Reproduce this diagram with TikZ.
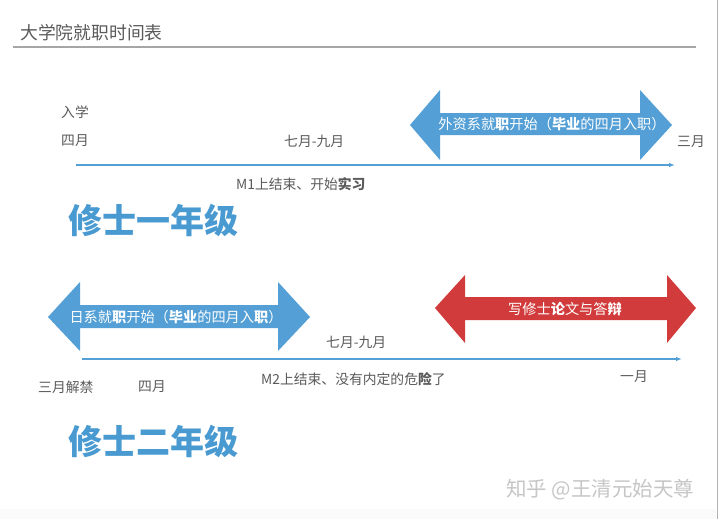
\documentclass[tikz,border=0pt]{standalone}
\usepackage{fontspec}
\setmainfont{Noto Sans CJK SC}
\usetikzlibrary{arrows.meta}
\definecolor{tblue}{HTML}{4A9AD2}
\definecolor{abblue}{HTML}{539FD6}
\definecolor{tred}{HTML}{D23B3B}
\definecolor{tgray}{HTML}{5A5A5A}
\tikzset{
  lbl/.style={font=\fontsize{13.8}{15}\selectfont, text=tgray, inner sep=0pt, anchor=west},
  big/.style={font=\fontsize{34}{38}\selectfont\bfseries, text=tblue, inner sep=0pt, anchor=west},
  atext/.style={font=\fontsize{14.2}{16}\selectfont, text=white, inner sep=0pt},
  tline/.style={abblue, line width=1.3pt, -{Latex[length=6pt,width=4.5pt]}},
}
\begin{document}
\begin{tikzpicture}[x=1pt,y=-1pt]
\useasboundingbox (0,0) rectangle (720,519);
\fill[white] (0,0) rectangle (720,519);
% page border hints
\draw[gray!60, line width=1pt] (717,0) -- (717,519);
\fill[gray!4] (0,509) rectangle (716,519);
% title
\node[font=\fontsize{17.8}{20}\selectfont, text=tgray, inner sep=0pt, anchor=west] (title) at (20,33) {大学院就职时间表};
\draw[gray!70, line width=1.5pt] (13,47) -- (696,47);

% ---- year 1 ----
\fill[abblue] (410,125) -- (440,90) -- (440,113) -- (640,113) -- (640,90) -- (672,125)
  -- (640,160) -- (640,135) -- (440,135) -- (440,160) -- cycle;
\node[atext] (a1) at (552,124) {外资系就\textbf{职}开始（\textbf{毕业}的四月入职）};

\coordinate (t1s) at (76,165);
\coordinate (t1e) at (675,165);
\draw[tline] (t1s) -- (t1e);

\node[lbl] (ruxue) at (61,112) {入学};
\node[lbl] (siyue1) at (61,141) {四月};
\node[lbl] (qiyue1) at (284,141) {七月-九月};
\node[lbl] (sanyue1) at (677,142) {三月};
\node[lbl] (m1) at (236,184) {M1上结束、开始\textbf{实习}};
\node[big] (y1) at (68,220) {修士一年级};

% ---- year 2 ----
\fill[abblue] (48,317) -- (80,282) -- (80,305) -- (278,305) -- (278,282) -- (310,317)
  -- (278,351) -- (278,328) -- (80,328) -- (80,351) -- cycle;
\node[atext] (a2) at (176,317) {日系就\textbf{职}开始（\textbf{毕业}的四月入\textbf{职}）};

\fill[tred] (435,308) -- (465,275) -- (465,297) -- (667,297) -- (667,275) -- (696,308)
  -- (667,343) -- (667,320) -- (465,320) -- (465,343) -- cycle;
\node[atext] (a3) at (565,309) {写修士\textbf{论}文与答\textbf{辩}};

\coordinate (t2s) at (82,359);
\coordinate (t2e) at (682,359);
\draw[tline] (t2s) -- (t2e);

\node[lbl] (qiyue2) at (326,342) {七月-九月};
\node[lbl] (jiejin) at (38,387) {三月解禁};
\node[lbl] (siyue2) at (138,387) {四月};
\node[lbl] (m2) at (261,379) {M2上结束、没有内定的危\textbf{险}了};
\node[lbl] (yiyue) at (620,377) {一月};
\node[big] (y2) at (68,441) {修士二年级};

% watermark
\node[font=\fontsize{20.5}{22}\selectfont, text=gray!45, inner sep=0pt, anchor=west] (wm) at (506,490) {知乎 @王清元始天尊};
\end{tikzpicture}
\end{document}
